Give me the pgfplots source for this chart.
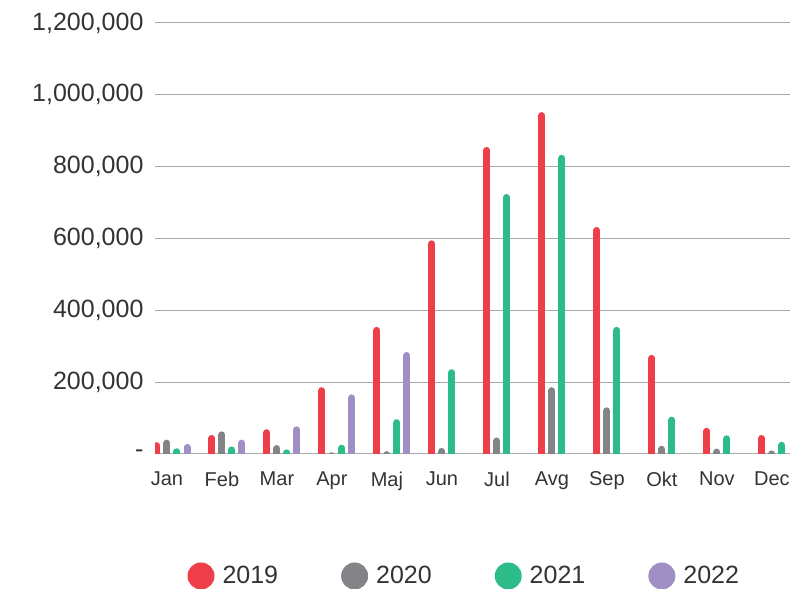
\documentclass[border=0pt]{standalone}
\usepackage{pgfplots}
\pgfplotsset{compat=1.18}
\usepackage{fontspec}
\setmainfont{Liberation Sans}
\definecolor{c19}{HTML}{EE3E4A}
\definecolor{c20}{HTML}{838487}
\definecolor{c21}{HTML}{2EBB8A}
\definecolor{c22}{HTML}{A08FC4}
\definecolor{txt}{HTML}{333333}
\definecolor{gridc}{HTML}{AAAAAA}
\begin{document}
\begin{tikzpicture}[x=1pt,y=1pt]
\useasboundingbox (0,0) rectangle (791,588);
\begin{axis}[
  at={(155pt,134pt)}, anchor=south west,
  scale only axis, width=635pt, height=431pt,
  xmin=-0.218, xmax=11.33,
  ymin=0, ymax=1200000,
  separate axis lines,
  axis x line*=bottom, axis y line*=left,
  x axis line style={draw=gridc, line width=1pt},
  y axis line style={draw=none},
  xtick style={draw=none}, ytick style={draw=none},
  ymajorgrids, grid style={draw=gridc, line width=1pt},
  ytick={0,200000,400000,600000,800000,1000000,1200000},
  yticklabels={{\raisebox{-3pt}{-}},{200,000},{400,000},{600,000},{800,000},{1,000,000},{1,200,000}},
  xtick={0,1,2,3,4,5,6,7,8,9,10,11},
  xticklabels={Jan,Feb,Mar,Apr,Maj,Jun,Jul,Avg,Sep,Okt,Nov,Dec},
  yticklabel style={font=\fontsize{25}{25}\selectfont, text=txt, xshift=-8pt},
  xticklabel style={font=\fontsize{20}{20}\selectfont, text=txt, yshift=-14pt},
  scaled y ticks=false,
  legend columns=4,
  legend image code/.code={\fill[draw=none] (0pt,3pt) circle (13.5pt);},
  legend style={draw=none, fill=none, at={(0.487,-0.283)}, anchor=center,
    font=\fontsize{25}{25}\selectfont, text=txt,
    /tikz/every odd column/.append style={column sep=6pt},
    /tikz/every even column/.append style={column sep=61pt}},
]
\addplot[ycomb, no markers, draw=c19, fill=c19, line width=7pt, line cap=round, yshift=-3.5pt] coordinates {
(-0.182,33000) (0.818,53000) (1.818,69000) (2.818,186000) (3.818,354000) (4.818,595000)
(5.818,855000) (6.818,952000) (7.818,632000) (8.818,276000) (9.818,73000) (10.818,53000)};
\addlegendentry{2019}
\addplot[ycomb, no markers, draw=c20, fill=c20, line width=7pt, line cap=round, yshift=-3.5pt] coordinates {
(0,40000) (1,63000) (2,25000) (3,5000) (4,8000) (5,17000)
(6,46000) (7,186000) (8,130000) (9,23000) (10,15000) (11,10000)};
\addlegendentry{2020}
\addplot[ycomb, no markers, draw=c21, fill=c21, line width=7pt, line cap=round, yshift=-3.5pt] coordinates {
(0.182,16000) (1.182,21000) (2.182,13000) (3.182,26000) (4.182,97000) (5.182,236000)
(6.182,724000) (7.182,833000) (8.182,354000) (9.182,104000) (10.182,52000) (11.182,34000)};
\addlegendentry{2021}
\addplot[ycomb, no markers, draw=c22, fill=c22, line width=7pt, line cap=round, yshift=-3.5pt] coordinates {
(0.364,28000) (1.364,40000) (2.364,77000) (3.364,166000) (4.364,284000)};
\addlegendentry{2022}
\end{axis}
\end{tikzpicture}
\end{document}
